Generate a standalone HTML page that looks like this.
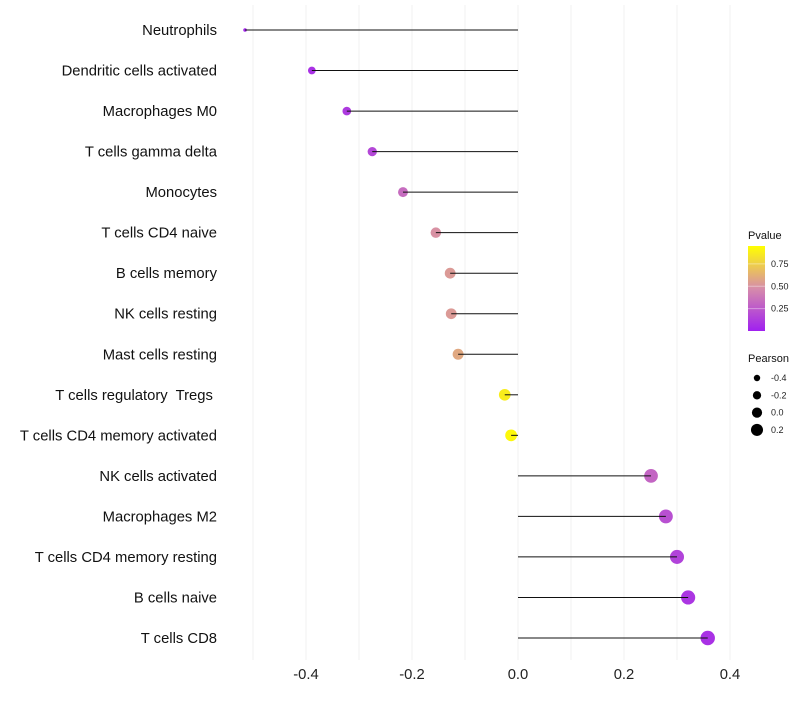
<!DOCTYPE html>
<html><head><meta charset="utf-8"><style>
body{margin:0;background:#fff;font-family:"Liberation Sans",sans-serif}
text{white-space:pre}
</style></head><body>
<svg id="chart" width="800" height="700" xmlns="http://www.w3.org/2000/svg"></svg>
<script>
const categories=["Neutrophils","Dendritic cells activated","Macrophages M0","T cells gamma delta","Monocytes","T cells CD4 naive","B cells memory","NK cells resting","Mast cells resting","T cells regulatory  Tregs ","T cells CD4 memory activated","NK cells activated","Macrophages M2","T cells CD4 memory resting","B cells naive","T cells CD8"];
const pearson=[-0.515,-0.389,-0.323,-0.275,-0.217,-0.155,-0.128,-0.126,-0.113,-0.025,-0.013,0.251,0.279,0.300,0.321,0.358];
const pvalues=[0.03,0.08,0.12,0.18,0.35,0.52,0.56,0.56,0.62,0.92,0.97,0.32,0.22,0.16,0.10,0.08];
const xTicks=[-0.4,-0.2,0.0,0.2,0.4];
const xMinor=[-0.5,-0.3,-0.1,0.1,0.3];
const pTicks=[0.25,0.50,0.75];
const sizeTicks=[-0.4,-0.2,0.0,0.2];

const NS="http://www.w3.org/2000/svg";
const svg=document.getElementById('chart');
const X=v=>518+v*530;
const Y=i=>30+i*(608/15);
const R=v=>1.8+5.4*Math.sqrt(Math.max(0,(v+0.515)/0.873));
function lerp(a,b,t){return a.map((c,i)=>Math.round(c+(b[i]-c)*t));}
function col(p){const a=[160,32,240],m=[214,140,170],b=[255,255,0];
 const c=p<0.5?lerp(a,m,p/0.5):lerp(m,b,(p-0.5)/0.5);return `rgb(${c})`;}
function el(t,at,txt){const e=document.createElementNS(NS,t);for(const k in at)e.setAttribute(k,at[k]);if(txt!=null)e.textContent=txt;svg.appendChild(e);return e;}

xMinor.concat(xTicks).forEach(v=>{const g=el('line',{x1:X(v),x2:X(v),y1:5,y2:660,stroke:'#f2f2f2','stroke-width':1});

});
xTicks.forEach(v=>{const t=el('text',{x:X(v),y:679,'text-anchor':'middle','font-size':14.8,fill:'#222'},v.toFixed(1));

});
categories.forEach((c,i)=>{
 const t=el('text',{x:217,y:Y(i)+5,'text-anchor':'end','font-size':14.8,fill:'#111'},c);
 
 
 const d=el('circle',{cx:X(pearson[i]),cy:Y(i),r:R(pearson[i]),fill:col(pvalues[i])});
 
 
 const l=el('line',{x1:X(0),x2:X(pearson[i]),y1:Y(i),y2:Y(i),stroke:'#111','stroke-width':1});
 
 
});
const defs=el('defs',{});
const lg=document.createElementNS(NS,'linearGradient');lg.setAttribute('id','pg');lg.setAttribute('x1',0);lg.setAttribute('x2',0);lg.setAttribute('y1',1);lg.setAttribute('y2',0);
[0,0.25,0.5,0.75,1].forEach(s=>{const st=document.createElementNS(NS,'stop');st.setAttribute('offset',s);st.setAttribute('stop-color',col(s));lg.appendChild(st);});
defs.appendChild(lg);
const lt=el('text',{x:748,y:239,'font-size':11,fill:'#111'},'Pvalue');


const bar=el('rect',{x:748,y:246,width:17,height:85,fill:'url(#pg)'});


pTicks.forEach(p=>{const yy=331-p*85/0.95;
 el('line',{x1:748,x2:765,y1:yy,y2:yy,stroke:'#fff','stroke-opacity':0.4});
 const t=el('text',{x:771,y:yy+3,'font-size':9,fill:'#222'},p.toFixed(2));
 
 });
const st=el('text',{x:748,y:362,'font-size':11,fill:'#111'},'Pearson');


sizeTicks.forEach((v,i)=>{const yy=378+i*17.3;
 const c=el('circle',{cx:757,cy:yy,r:3.2+i*0.95,fill:'#000'});
 
 
 const t=el('text',{x:771,y:yy+3,'font-size':9,fill:'#222'},v.toFixed(1));
 
 });
</script>
</body></html>
